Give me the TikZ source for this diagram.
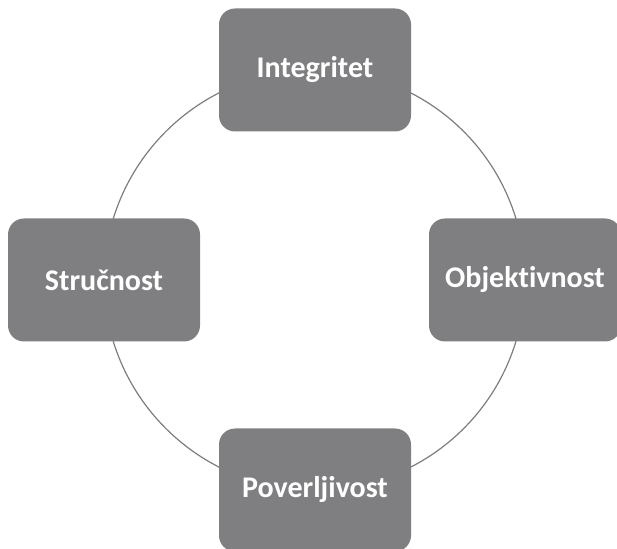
\documentclass[tikz,border=0pt]{standalone}
\usepackage{fontspec}
\setmainfont{Carlito}[RawFeature=-liga]
\usetikzlibrary{positioning,backgrounds}
\definecolor{boxGray}{RGB}{127,127,130}
\definecolor{ringGray}{RGB}{125,125,125}
\tikzset{
    qbox/.style={rectangle, rounded corners=16pt, fill=boxGray, text=white, minimum width=192pt, minimum height=123pt, inner sep=0pt, font=\fontsize{30}{36}\selectfont\bfseries},
    ring/.style={line width=1.2pt, ringGray}
}

\begin{document}
\begin{tikzpicture}[x=1pt,y=1pt]
\useasboundingbox (0,0) rectangle (617,548);
\node[qbox] (integ) at (315,478) {Integritet};
\node[qbox] (struc) at (104,268) {Stručnost};
\node[qbox] (objek) at (525,268) {Objektivnost};
\node[qbox] (pover) at (315,58) {Poverljivost};
\begin{scope}[on background layer]
\draw[ring] (integ.center) to[bend right=45] (struc.center);
\draw[ring] (struc.center) to[bend right=45] (pover.center);
\draw[ring] (pover.center) to[bend right=45] (objek.center);
\draw[ring] (objek.center) to[bend right=45] (integ.center);
\end{scope}
\end{tikzpicture}
\end{document}
